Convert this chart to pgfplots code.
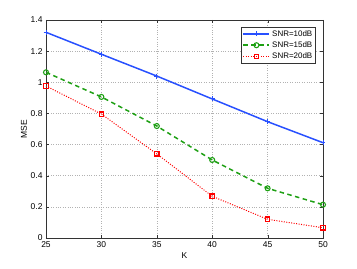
\documentclass[border=0pt]{standalone}
\usepackage{pgfplots}
\pgfplotsset{compat=1.18}
\usepackage{fontspec}
\setmainfont{Liberation Sans}
\setsansfont{Liberation Sans}
\definecolor{mblue}{RGB}{40,80,255}
\definecolor{mgreen}{RGB}{30,160,20}
\definecolor{mred}{RGB}{255,0,0}
\begin{document}
\begin{tikzpicture}
\useasboundingbox (-46bp,-31bp) rectangle (311bp,238bp);
\begin{axis}[
  at={(0,0)}, anchor=south west,
  scale only axis, width=277bp, height=218bp,
  xmin=25, xmax=50, ymin=0, ymax=1.4,
  xtick={25,30,35,40,45,50},
  ytick={0,0.2,0.4,0.6,0.8,1,1.2,1.4},
  yticklabels={0,0.2,0.4,0.6,0.8,1,1.2,1.4},
  tick align=inside, tick pos=both,
  major tick length=3bp,
  grid=major,
  major grid style={gray!60, dotted, line width=0.5pt},
  axis line style={black!80, line width=0.7pt},
  tick style={black!80},
  every tick label/.append style={font=\fontsize{8.5}{9}\selectfont},
  /pgf/number format/assume math mode=true,
  xlabel={K}, ylabel={MSE},
  label style={font=\fontsize{8.5}{9}\selectfont},
  xlabel style={yshift=2bp},
  ylabel style={yshift=-3bp},
  legend style={at={(0.975,0.97)}, anchor=north east, font=\fontsize{8}{10}\selectfont, draw=black!80, line width=0.6pt, inner sep=1.5pt},
  legend cell align=left,
  legend image code/.code={\draw[mark repeat=2,mark phase=2] plot coordinates {(0bp,0bp)(13bp,0bp)(26bp,0bp)};},
]
\addplot[mblue, line width=1.5pt, mark=+, mark size=2.5pt, mark options={solid, line width=0.9pt, draw=mblue}] coordinates {
(25,1.321) (30,1.180) (35,1.040) (40,0.893) (45,0.747) (50,0.612)};
\addlegendentry{SNR=10dB}
\addplot[mgreen, line width=1.5pt, dash pattern=on 4.5pt off 3.5pt, mark=o, mark size=2.5pt, mark options={solid, line width=1.1pt, draw=mgreen, fill=none}] coordinates {
(25,1.064) (30,0.906) (35,0.719) (40,0.501) (45,0.319) (50,0.214)};
\addlegendentry{SNR=15dB}
\addplot[mred, line width=1pt, dash pattern=on 1pt off 1.5pt, mark=square, mark size=2.2pt, mark options={solid, line width=1.3pt, draw=mred, fill=none}] coordinates {
(25,0.976) (30,0.796) (35,0.540) (40,0.268) (45,0.120) (50,0.066)};
\addlegendentry{SNR=20dB}
\end{axis}
\end{tikzpicture}
\end{document}
